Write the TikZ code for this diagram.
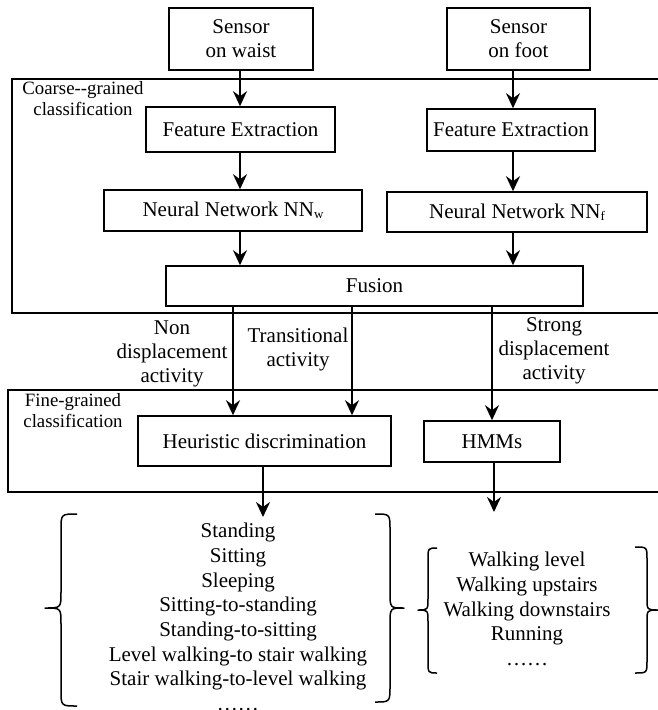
\documentclass[tikz,border=0pt]{standalone}
\usepackage{fontspec}
\setmainfont{Liberation Serif}
\usetikzlibrary{arrows.meta}
\newcommand\bigtxt{\fontsize{21}{24}\selectfont}
\newcommand\smalltxt{\fontsize{18.8}{21}\selectfont}
\newcommand\listtxt{\fontsize{21}{24.7}\selectfont}
\newcommand\subtxt[1]{\raisebox{-1.5pt}{\fontsize{13}{13}\selectfont #1}}
\begin{document}
\begin{tikzpicture}[x=1pt,y=-1pt,
  box/.style={draw, line width=1.6pt, inner sep=0pt, align=center, font=\bigtxt},
  frame/.style={draw, line width=1.6pt, inner sep=0pt},
  lbl/.style={inner sep=0pt, align=center, font=\bigtxt},
  sidelbl/.style={inner sep=0pt, align=center, font=\smalltxt},
  listtext/.style={inner sep=0pt, align=center, font=\listtxt},
  arr/.style={line width=1.6pt, -{Stealth[length=15pt,width=14pt,inset=5pt]}},
  brace/.style={line width=1.5pt, line join=round}]
\useasboundingbox (0,0) rectangle (658,710);

% stage frames (open to the right)
\node[frame, minimum width=650pt, minimum height=234pt] (coarse) at (337,196) {};
\node[frame, minimum width=654pt, minimum height=102pt] (fine) at (335,441) {};
\node[sidelbl] (coarselbl) at (83,99) {Coarse-{}-grained\\classification};
\node[sidelbl] (finelbl) at (73,411) {Fine-grained\\classification};

% sensors
\node[box, minimum width=144pt, minimum height=62pt] (waist) at (241,39) {Sensor\\on waist};
\node[box, minimum width=143pt, minimum height=62pt] (foot) at (518.5,39) {Sensor\\on foot};

% coarse-grained chain
\node[box, minimum width=189pt, minimum height=45pt] (fel) at (240.5,129.5) {Feature Extraction};
\node[box, minimum width=168pt, minimum height=42pt] (fer) at (511,130) {Feature Extraction};
\node[box, minimum width=258pt, minimum height=41pt] (nnw) at (233,210.5) {Neural Network NN\subtxt{w}};
\node[box, minimum width=260pt, minimum height=40pt] (nnf) at (517,212) {Neural Network NN\subtxt{f}};
\node[box, minimum width=417pt, minimum height=40pt] (fusion) at (374.5,286) {Fusion};

% fine-grained stage
\node[box, minimum width=253pt, minimum height=50pt] (heur) at (264.5,441) {Heuristic discrimination};
\node[box, minimum width=136pt, minimum height=41pt] (hmm) at (492,441.5) {HMMs};

% activity labels
\node[lbl] (nondisp) at (172,354) {Non\\displacement\\activity};
\node[lbl] (trans) at (298,349) {Transitional\\activity};
\node[lbl] (strong) at (554,351) {Strong\\displacement\\activity};

% activity lists
\node[listtext] (list1) at (238,617) {Standing\\Sitting\\Sleeping\\Sitting-to-standing\\Standing-to-sitting\\Level walking-to stair walking\\Stair walking-to-level walking\\\textellipsis\textellipsis};
\node[listtext] (list2) at (527,609) {Walking level\\Walking upstairs\\Walking downstairs\\Running\\\textellipsis\textellipsis};

\coordinate (list1top) at (263,517);
\coordinate (list2top) at (494,512);

% connectors
\draw[arr] (waist.south -| 240,0) -- (fel.north -| 240,0);
\draw[arr] (foot.south -| 513,0) -- (fer.north -| 513,0);
\draw[arr] (fel.south -| 240,0) -- (nnw.north -| 240,0);
\draw[arr] (fer.south -| 513,0) -- (nnf.north -| 513,0);
\draw[arr] (nnw.south -| 240,0) -- (fusion.north -| 240,0);
\draw[arr] (nnf.south -| 513,0) -- (fusion.north -| 513,0);
\draw[arr] (fusion.south -| 233,0) -- (heur.north -| 233,0);
\draw[arr] (fusion.south -| 352,0) -- (heur.north -| 352,0);
\draw[arr] (fusion.south -| 492,0) -- (hmm.north -| 492,0);
\draw[arr] (heur.south -| 263,0) -- (list1top);
\draw[arr] (hmm.south -| 494,0) -- (list2top);

% braces round the lists
\draw[brace] (77,514) .. controls (61,514) .. (61,530) -- (61,592)
  .. controls (61,608) .. (45,608) .. controls (61,608) .. (61,624)
  -- (61,690) .. controls (61,706) .. (77,706);
\draw[brace] (375,514) .. controls (390,514) .. (390,530) -- (390,592)
  .. controls (390,608) .. (404,608) .. controls (390,608) .. (390,624)
  -- (390,686) .. controls (390,702) .. (375,702);
\draw[brace] (437,548) .. controls (428,548) .. (428,560) -- (428,598)
  .. controls (428,610) .. (418,610) .. controls (428,610) .. (428,622)
  -- (428,661) .. controls (428,673) .. (437,673);
\draw[brace] (635,547) .. controls (647,547) .. (647,559) -- (647,598)
  .. controls (647,610) .. (658,610) .. controls (647,610) .. (647,622)
  -- (647,661) .. controls (647,673) .. (635,673);
\end{tikzpicture}
\end{document}
